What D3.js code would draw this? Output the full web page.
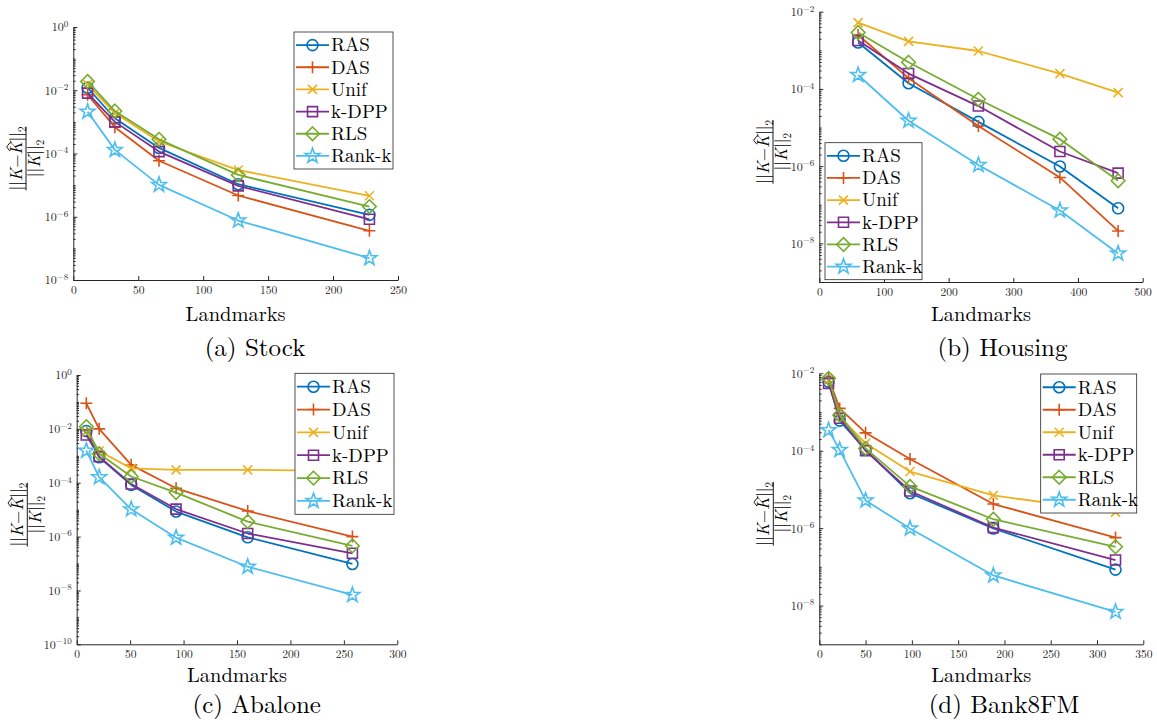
<!DOCTYPE html>
<html>
<head>
<meta charset="utf-8">
<script src="https://cdn.jsdelivr.net/npm/d3@7"></script>
<style>
  body { margin: 0; background: #fff; }
  svg { display: block; }
</style>
</head>
<body>
<div id="chart"></div>
<script>
const methods = ["RAS", "DAS", "Unif", "k-DPP", "RLS", "Rank-k"];

// (a) Stock
const stockX    = [11, 32, 66, 127, 228];
const stockRAS  = [1.2e-2, 1.3e-3, 1.5e-4, 1.07e-5, 1.15e-6];
const stockDAS  = [7.2e-3, 6.8e-4, 5.9e-5, 4.7e-6, 3.6e-7];
const stockUnif = [1.5e-2, 1.9e-3, 2.4e-4, 3.0e-5, 4.6e-6];
const stockKDPP = [8.1e-3, 1.0e-3, 1.15e-4, 9.5e-6, 8.3e-7];
const stockRLS  = [1.9e-2, 2.2e-3, 2.8e-4, 2.1e-5, 2.1e-6];
const stockRank = [2.1e-3, 1.3e-4, 1.02e-5, 7.6e-7, 4.9e-8];

// (b) Housing
const housingX    = [60, 138, 246, 372, 462];
const housingRAS  = [1.6e-3, 1.4e-4, 1.4e-5, 9.8e-7, 8.1e-8];
const housingDAS  = [2.5e-3, 1.9e-4, 1.1e-5, 5.1e-7, 2.1e-8];
const housingUnif = [5.2e-3, 1.7e-3, 9.6e-4, 2.5e-4, 8.0e-5];
const housingKDPP = [1.8e-3, 2.5e-4, 3.6e-5, 2.4e-6, 6.6e-7];
const housingRLS  = [2.9e-3, 4.9e-4, 5.4e-5, 5.0e-6, 4.2e-7];
const housingRank = [2.3e-4, 1.5e-5, 1.07e-6, 7.1e-8, 5.5e-9];

// (c) Abalone
const abaloneX    = [9, 21, 51, 93, 160, 258];
const abaloneRAS  = [8.3e-3, 8.8e-4, 8.3e-5, 8.5e-6, 9.4e-7, 9.6e-8];
const abaloneDAS  = [8.9e-2, 1.0e-2, 4.6e-4, 6.2e-5, 8.9e-6, 1.0e-6];
const abaloneUnif = [7.9e-3, 1.5e-3, 3.4e-4, 3.0e-4, 3.0e-4, 2.7e-4];
const abaloneKDPP = [5.9e-3, 9.3e-4, 9.0e-5, 1.05e-5, 1.3e-6, 2.4e-7];
const abaloneRLS  = [1.2e-2, 1.2e-3, 1.7e-4, 4.3e-5, 3.6e-6, 4.5e-7];
const abaloneRank = [1.55e-3, 1.6e-4, 1.03e-5, 9.1e-7, 7.6e-8, 6.8e-9];

// (d) Bank8FM
const bankX    = [10, 22, 50, 98, 188, 320];
const bankRAS  = [6.1e-3, 6.0e-4, 1.05e-4, 8.0e-6, 9.8e-7, 8.5e-8];
const bankDAS  = [7.4e-3, 1.24e-3, 2.9e-4, 6.1e-5, 4.2e-6, 5.7e-7];
const bankUnif = [6.7e-3, 7.6e-4, 1.55e-4, 2.9e-5, 7.0e-6, 2.6e-6];
const bankKDPP = [5.5e-3, 6.9e-4, 1.0e-4, 9.1e-6, 1.03e-6, 1.5e-7];
const bankRLS  = [7.4e-3, 8.3e-4, 1.15e-4, 1.2e-5, 1.7e-6, 3.3e-7];
const bankRank = [3.4e-4, 1.05e-4, 5.2e-6, 9.8e-7, 6.0e-8, 6.9e-9];

const captions = ["(a) Stock", "(b) Housing", "(c) Abalone", "(d) Bank8FM"];
const xTickSets = [[0, 50, 100, 150, 200, 250], [0, 100, 200, 300, 400, 500],
                   [0, 50, 100, 150, 200, 250, 300], [0, 50, 100, 150, 200, 250, 300, 350]];
const yExpSets = [[0, -2, -4, -6, -8], [-2, -4, -6, -8],
                  [0, -2, -4, -6, -8, -10], [-2, -4, -6, -8]];

(() => {
  const W = 1157, H = 724;
  const font = "'Latin Modern Roman', 'Liberation Serif', serif";
  const axisColor = "#262626";
  const colors = ["#0072BD", "#D95319", "#EDB120", "#7E2F8E", "#77AC30", "#4DBEEE"];

  const svg = d3.select("#chart").append("svg")
    .attr("width", W).attr("height", H)
    .style("background", "#fff");

  // marker outlines, MATLAB style
  const star = (() => {
    const pts = [];
    for (let i = 0; i < 10; i++) {
      const r = i % 2 ? 3.1 : 7.8, a = -Math.PI / 2 + i * Math.PI / 5;
      pts.push([r * Math.cos(a), r * Math.sin(a)]);
    }
    return "M" + pts.map(p => p.join(",")).join("L") + "Z";
  })();
  const markers = [
    "M-5.5,0A5.5,5.5 0 1,1 5.5,0A5.5,5.5 0 1,1 -5.5,0Z",
    "M-6,0H6M0,-6V6",
    "M-4.5,-4.5L4.5,4.5M-4.5,4.5L4.5,-4.5",
    "M-5,-5H5V5H-5Z",
    "M0,-6.8L6.8,0L0,6.8L-6.8,0Z",
    star
  ];

  const panels = [
    { xs: stockX, ys: [stockRAS, stockDAS, stockUnif, stockKDPP, stockRLS, stockRank],
      xMax: 250, yDom: [1e-8, 1], l: 73.3, r: 398, t: 27, b: 280,
      leg: [294, 32, 99, 137], capX: 255, fracX: 26, capY: 356, labY: 320.5 },
    { xs: housingX, ys: [housingRAS, housingDAS, housingUnif, housingKDPP, housingRLS, housingRank],
      xMax: 500, yDom: [1e-9, 1e-2], l: 819.3, r: 1142.7, t: 11.7, b: 282,
      leg: [825, 142.7, 97, 137], capX: 1002.5, fracX: 773, capY: 356, labY: 320.5 },
    { xs: abaloneX, ys: [abaloneRAS, abaloneDAS, abaloneUnif, abaloneKDPP, abaloneRLS, abaloneRank],
      xMax: 300, yDom: [1e-10, 1], l: 76.7, r: 397.3, t: 375, b: 644.3,
      leg: [295, 373.3, 99, 141], capX: 256.7, fracX: 27.3, capY: 713, labY: 682 },
    { xs: bankX, ys: [bankRAS, bankDAS, bankUnif, bankKDPP, bankRLS, bankRank],
      xMax: 350, yDom: [1e-9, 1e-2], l: 819.3, r: 1143.3, t: 373.3, b: 644.3,
      leg: [1040.7, 374, 96, 139], capX: 1004, fracX: 773.3, capY: 713, labY: 682 }
  ];

  panels.forEach((p, pi) => {
    const x = d3.scaleLinear().domain([0, p.xMax]).range([p.l, p.r]);
    const y = d3.scaleLog().domain(p.yDom).range([p.b, p.t]);
    const g = svg.append("g");

    // x axis, ticks inward
    const xa = g.append("g")
      .attr("transform", `translate(0,${p.b})`)
      .call(d3.axisBottom(x).tickValues(xTickSets[pi]).tickSizeInner(-4).tickSizeOuter(0).tickPadding(6));
    xa.selectAll("text").style("font-family", font).style("font-size", "11.5px").attr("fill", axisColor);

    // y axis minor ticks
    const lo = Math.round(Math.log10(p.yDom[0])), hi = Math.round(Math.log10(p.yDom[1]));
    const minors = [];
    for (let e = lo; e < hi; e++) {
      for (let k = 1; k <= 9; k++) if (!(k === 1 && yExpSets[pi].includes(e))) minors.push(k * Math.pow(10, e));
    }
    const ym = g.append("g").attr("transform", `translate(${p.l},0)`)
      .call(d3.axisLeft(y).tickValues(minors).tickSizeInner(-2.3).tickSizeOuter(0).tickFormat(""));
    ym.select(".domain").remove();

    // y axis major ticks with superscript labels
    const ya = g.append("g").attr("transform", `translate(${p.l},0)`)
      .call(d3.axisLeft(y).tickValues(yExpSets[pi].map(e => Math.pow(10, e)))
        .tickSizeInner(-4).tickSizeOuter(0).tickPadding(5).tickFormat(""));
    ya.selectAll(".tick text").each(function(d) {
      const t = d3.select(this).style("font-family", font).style("font-size", "12px").attr("fill", axisColor);
      t.append("tspan").text("10");
      t.append("tspan").attr("dy", "-0.5em").style("font-size", "9px")
        .text(String(Math.round(Math.log10(d))).replace("-", "\u2212"));
    });

    [xa, ya, ym].forEach(a => {
      a.selectAll("line").attr("stroke", axisColor);
      a.selectAll(".domain").attr("stroke", axisColor);
    });

    // series lines and markers
    const line = d3.line().x(d => x(d[0])).y(d => y(d[1]));
    p.ys.forEach((vals, si) => {
      const pts = p.xs.map((v, i) => [v, vals[i]]);
      g.append("path").datum(pts)
        .attr("d", line).attr("fill", "none")
        .attr("stroke", colors[si]).attr("stroke-width", 1.8).attr("stroke-linejoin", "round");
      g.selectAll(null).data(pts).join("path")
        .attr("d", markers[si])
        .attr("transform", d => `translate(${x(d[0])},${y(d[1])})`)
        .attr("fill", "none").attr("stroke", colors[si]).attr("stroke-width", 1.6)
        .attr("stroke-linejoin", "miter");
    });

    // legend
    const [lx, ly, lw, lh] = p.leg;
    const leg = g.append("g");
    leg.append("rect").attr("x", lx).attr("y", ly).attr("width", lw).attr("height", lh)
      .attr("fill", "#fff").attr("stroke", axisColor).attr("stroke-width", 0.8);
    const step = (lh - 4) / methods.length;
    methods.forEach((m, si) => {
      const cy = ly + 2 + step * (si + 0.5);
      leg.append("line").attr("x1", lx + 2).attr("x2", lx + 35).attr("y1", cy).attr("y2", cy)
        .attr("stroke", colors[si]).attr("stroke-width", 1.8);
      leg.append("path").attr("d", markers[si]).attr("transform", `translate(${lx + 18.5},${cy})`)
        .attr("fill", "none").attr("stroke", colors[si]).attr("stroke-width", 1.6);
      leg.append("text").attr("x", lx + 37).attr("y", cy + 6.3).text(m)
        .style("font-family", font).style("font-size", "19px").attr("fill", "#000");
    });

    // x label and caption
    g.append("text").attr("x", (p.l + p.r) / 2).attr("y", p.labY).attr("text-anchor", "middle")
      .style("font-family", font).style("font-size", "20.5px").text("Landmarks");
    g.append("text").attr("x", p.capX).attr("y", p.capY).attr("text-anchor", "middle")
      .style("font-family", font).style("font-size", "25px").text(captions[pi]);

    // y label: ||K - K^||_2 / ||K||_2
    const fr = g.append("g")
      .attr("transform", `translate(${p.fracX},${(p.t + p.b) / 2 + 5}) rotate(-90)`)
      .style("font-family", font).style("font-size", "17px");
    const num = fr.append("text").attr("y", -4).attr("text-anchor", "middle");
    num.append("tspan").text("||");
    num.append("tspan").style("font-style", "italic").text("K");
    num.append("tspan").text("\u2212");
    num.append("tspan").style("font-style", "italic").text("K");
    num.append("tspan").text("||");
    num.append("tspan").attr("dy", 4).style("font-size", "11px").text("2");
    const den = fr.append("text").attr("y", 14).attr("text-anchor", "middle");
    den.append("tspan").text("||");
    den.append("tspan").style("font-style", "italic").text("K");
    den.append("tspan").text("||");
    den.append("tspan").attr("dy", 4).style("font-size", "11px").text("2");
    const bw = num.node().getComputedTextLength();
    fr.append("line").attr("x1", -bw / 2).attr("x2", bw / 2).attr("y1", 0).attr("y2", 0)
      .attr("stroke", "#000").attr("stroke-width", 0.9);
    // hat over the second K
    const ext = num.node().getExtentOfChar(4);
    const hx = ext.x + ext.width / 2 + 1.2;
    fr.append("path").attr("d", `M${hx - 4},-16.3L${hx},-19.3L${hx + 4},-16.3`)
      .attr("fill", "none").attr("stroke", "#000").attr("stroke-width", 0.9);
  });
})();
</script>
</body>
</html>
